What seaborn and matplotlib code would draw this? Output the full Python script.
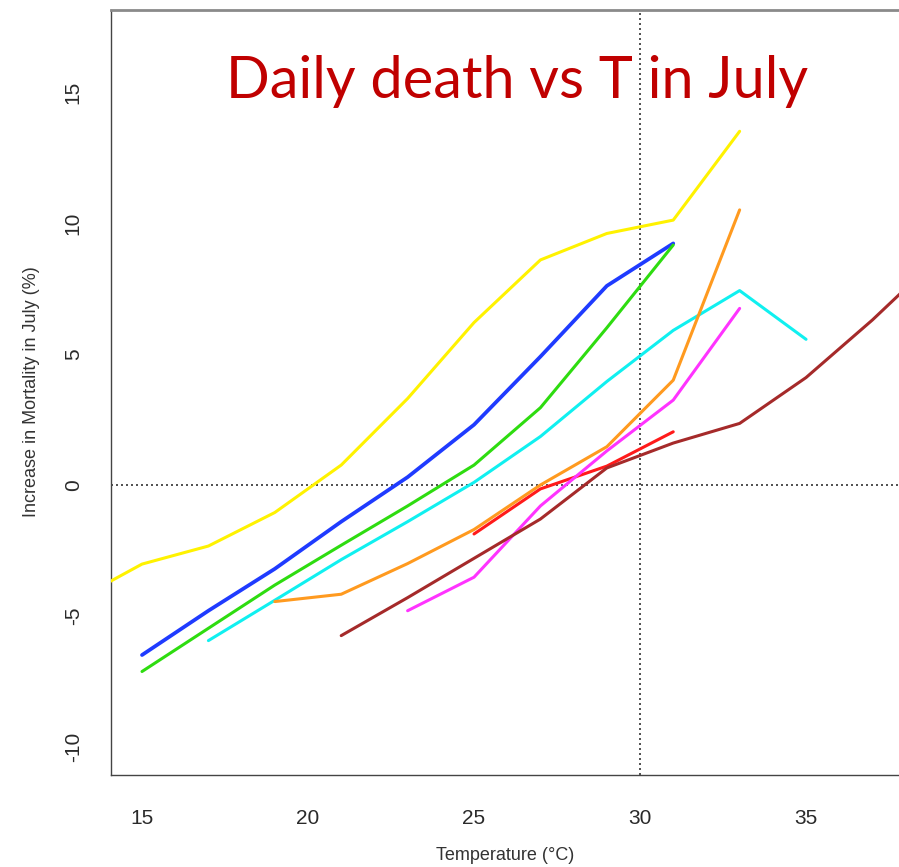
import matplotlib
matplotlib.use("Agg")
import matplotlib.pyplot as plt
import seaborn as sns
import pandas as pd

# ---- data ----
yellow_t = [13, 15, 17, 19, 21, 23, 25, 27, 29, 31, 33]
yellow_v = [-4.4, -3.02, -2.33, -1.05, 0.76, 3.3, 6.2, 8.59, 9.6, 10.11, 13.5]

blue_t = [15, 17, 19, 21, 23, 25, 27, 29, 31]
blue_v = [-6.49, -4.8, -3.2, -1.4, 0.3, 2.3, 4.9, 7.6, 9.22]

green_t = [15, 17, 19, 21, 23, 25, 27, 29, 31]
green_v = [-7.12, -5.47, -3.82, -2.3, -0.8, 0.76, 2.95, 6.0, 9.16]

cyan_t = [17, 19, 21, 23, 25, 27, 29, 31, 33, 35]
cyan_v = [-5.94, -4.4, -2.85, -1.4, 0.1, 1.85, 3.95, 5.9, 7.42, 5.56]

orange_t = [19, 21, 23, 25, 27, 29, 31, 33]
orange_v = [-4.45, -4.17, -3.0, -1.7, 0.0, 1.46, 4.0, 10.5]

red_t = [25, 27, 29, 31]
red_v = [-1.87, -0.15, 0.72, 2.03]

magenta_t = [23, 25, 27, 29, 31, 33]
magenta_v = [-4.8, -3.52, -0.8, 1.3, 3.24, 6.74]

brown_t = [21, 23, 25, 27, 29, 31, 33, 35, 37, 39]
brown_v = [-5.75, -4.3, -2.8, -1.3, 0.65, 1.6, 2.35, 4.1, 6.3, 8.7]

series = {
    "yellow": (yellow_t, yellow_v),
    "blue": (blue_t, blue_v),
    "green": (green_t, green_v),
    "cyan": (cyan_t, cyan_v),
    "orange": (orange_t, orange_v),
    "red": (red_t, red_v),
    "magenta": (magenta_t, magenta_v),
    "brown": (brown_t, brown_v),
}
palette = {
    "yellow": "#FFF200",
    "blue": "#1F3BFF",
    "green": "#2EDC10",
    "cyan": "#10F0F0",
    "orange": "#FF9A1F",
    "red": "#FF1A1A",
    "magenta": "#FF33FF",
    "brown": "#A52A2A",
}

x_ticks = [15, 20, 25, 30, 35]
y_ticks = [-10, -5, 0, 5, 10, 15]

title = "Daily death vs T in July"
xlabel = "Temperature (\u00b0C)"
ylabel = "Increase in Mortality in July (%)"

rows = []
for name, (ts, vs) in series.items():
    for i, (t, v) in enumerate(zip(ts, vs)):
        rows.append({"series": name, "T": t, "v": v, "order": i})
df = pd.DataFrame(rows)

# ---- plot ----
sns.set_style("white")
narrow = ["Liberation Sans Narrow", "Liberation Sans", "DejaVu Sans"]
plt.rcParams["font.family"] = narrow

W, H = 899, 867
fig = plt.figure(figsize=(W / 100, H / 100), dpi=100)
left, right, top, bottom = 111, 899, 10, 775
ax = fig.add_axes([left / W, 1 - bottom / H, (right - left) / W, (bottom - top) / H])

ax.axhline(0, color="#333333", lw=1.2, ls=(0, (1.2, 1.8)), zorder=1)
ax.axvline(30, color="#333333", lw=1.2, ls=(0, (1.2, 1.8)), zorder=1)

sns.lineplot(data=df, x="T", y="v", hue="series", palette=palette,
             units="series", estimator=None, sort=False, lw=2.2,
             legend=False, ax=ax, zorder=3)
for line in ax.get_lines():
    if line.get_color().lower() == palette["blue"].lower():
        line.set_linewidth(2.7)

ax.set_xlim(14.066, 37.8)
ax.set_ylim(-11.07, 18.13)
ax.set_xticks(x_ticks)
ax.set_yticks(y_ticks)
ax.set_xticklabels([str(t) for t in x_ticks])
ax.set_yticklabels([str(t) for t in y_ticks], rotation=90, va="center")

ax.tick_params(axis="both", which="major", direction="out", length=9.4,
               width=1.0, color="#444444", labelsize=15, labelcolor="#2a2a2a")
ax.tick_params(axis="x", pad=15)
ax.tick_params(axis="y", pad=11)

for s in ["left", "bottom"]:
    ax.spines[s].set_color("#444444")
    ax.spines[s].set_linewidth(1.0)
ax.spines["top"].set_color("#8a8a8a")
ax.spines["top"].set_linewidth(2.0)
ax.spines["right"].set_visible(False)

ax.set_xlabel("")
ax.set_ylabel("")
fig.text((left + right) / 2 / W, 1 - 855 / H, xlabel, ha="center", va="center",
         fontsize=13, color="#333333", family=narrow)
fig.text(32 / W, 1 - 392 / H, ylabel, ha="center", va="center", rotation=90,
         fontsize=13, color="#333333", family=narrow)

fig.text(517 / W, 1 - 98 / H, title, ha="center", va="baseline",
         fontsize=41.5, color="#C00000", family=["Lato", "Open Sans", "DejaVu Sans"])

fig.savefig("out.png", dpi=100)
